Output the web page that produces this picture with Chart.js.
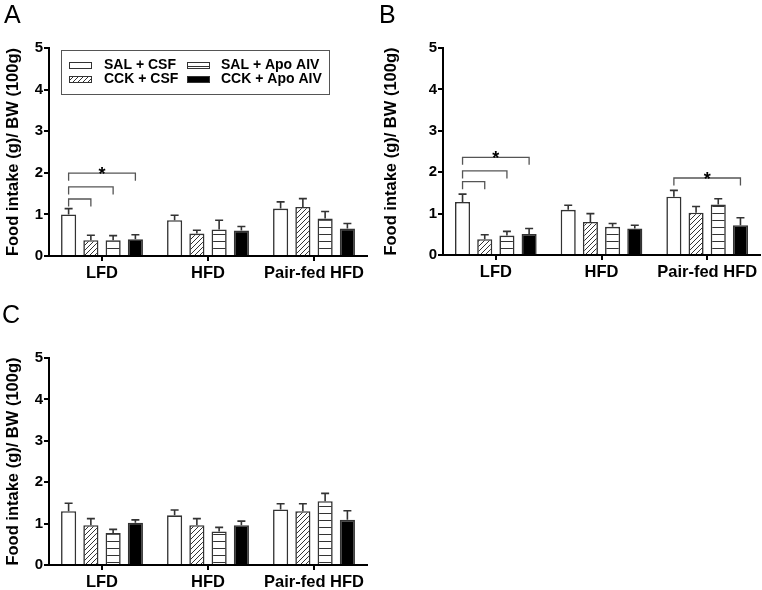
<!DOCTYPE html>
<html>
<head>
<meta charset="utf-8">
<script src="https://cdn.jsdelivr.net/npm/chart.js@4.4.1/dist/chart.umd.min.js"></script>
<style>
body { margin: 0; background: #fff; }
#wrap { position: relative; width: 762px; height: 590px; overflow: hidden; }
canvas, .tag { position: absolute; }
.tag { font-family: "Liberation Sans", Arial, sans-serif; font-size: 25px; line-height: 25px; color: #000; }
</style>
</head>
<body>
<div id="wrap">
  <canvas id="chartA" width="380" height="290" style="left:0;top:0"></canvas>
  <canvas id="chartB" width="382" height="290" style="left:380px;top:0"></canvas>
  <canvas id="chartC" width="380" height="290" style="left:0;top:300px"></canvas>
  <div class="tag" style="left:4px;top:2px">A</div>
  <div class="tag" style="left:379px;top:2px">B</div>
  <div class="tag" style="left:2px;top:302px">C</div>
</div>
<script>
var groups = ['LFD', 'HFD', 'Pair-fed HFD'];
var seriesNames = ['SAL + CSF', 'CCK + CSF', 'SAL + Apo AIV', 'CCK + Apo AIV'];
var yTicks = [0, 1, 2, 3, 4, 5];
var yTitle = 'Food intake (g)/ BW (100g)';

// rows follow seriesNames, columns follow groups
var meanA = [
    [1.00, 0.86, 1.14],
    [0.38, 0.54, 1.18],
    [0.38, 0.64, 0.90],
    [0.40, 0.61, 0.66]
];
var semA = [
    [0.14, 0.12, 0.16],
    [0.12, 0.08, 0.20],
    [0.11, 0.22, 0.17],
    [0.11, 0.10, 0.12]
];
var meanB = [
    [1.28, 1.09, 1.41],
    [0.38, 0.80, 1.02],
    [0.47, 0.68, 1.22],
    [0.51, 0.64, 0.72]
];
var semB = [
    [0.19, 0.11, 0.15],
    [0.11, 0.20, 0.15],
    [0.10, 0.08, 0.14],
    [0.13, 0.08, 0.18]
];
var meanC = [
    [1.30, 1.20, 1.34],
    [0.96, 0.96, 1.30],
    [0.77, 0.81, 1.54],
    [1.02, 0.96, 1.09]
];
var semC = [
    [0.19, 0.13, 0.14],
    [0.16, 0.16, 0.18],
    [0.09, 0.10, 0.19],
    [0.07, 0.10, 0.22]
];

// significance brackets: group, first bar, last bar, height
var bracketsA = [
    { group: 0, from: 0, to: 1, y: 1.37, star: false },
    { group: 0, from: 0, to: 2, y: 1.66, star: false },
    { group: 0, from: 0, to: 3, y: 1.99, star: true }
];
var bracketsB = [
    { group: 0, from: 0, to: 1, y: 1.77, star: false },
    { group: 0, from: 0, to: 2, y: 2.03, star: false },
    { group: 0, from: 0, to: 3, y: 2.36, star: true },
    { group: 2, from: 0, to: 3, y: 1.86, star: true }
];
var bracketsC = [];

var FONT = "'Liberation Sans', Arial, sans-serif";
Chart.defaults.font.family = FONT;
Chart.defaults.color = '#000';

function tile(w, h, draw) {
    var c = document.createElement('canvas');
    c.width = w; c.height = h;
    var g = c.getContext('2d');
    g.fillStyle = '#fff';
    g.fillRect(0, 0, w, h);
    g.strokeStyle = '#333';
    g.lineWidth = 1;
    g.beginPath();
    draw(g);
    g.stroke();
    return g.createPattern(c, 'repeat');
}

var hatch = tile(5, 5, function (g) {
    g.moveTo(0, 5); g.lineTo(5, 0);
    g.moveTo(-1, 1); g.lineTo(1, -1);
    g.moveTo(4, 6); g.lineTo(6, 4);
});
var stripes = tile(6, 7, function (g) {
    g.moveTo(0, 3.5); g.lineTo(6, 3.5);
});
var fills = ['#fff', hatch, stripes, '#000'];

var extras = {
    id: 'extras',
    afterDatasetsDraw: function (chart, args, opts) {
        var ctx = chart.ctx;
        var y = chart.scales.y;
        ctx.save();
        ctx.strokeStyle = '#333';
        ctx.lineWidth = 1.6;
        // error bars, upper half only
        chart.data.datasets.forEach(function (ds, i) {
            chart.getDatasetMeta(i).data.forEach(function (bar, j) {
                var top = y.getPixelForValue(ds.data[j] + ds.sem[j]);
                ctx.beginPath();
                ctx.moveTo(bar.x, bar.y);
                ctx.lineTo(bar.x, top);
                ctx.moveTo(bar.x - 4, top);
                ctx.lineTo(bar.x + 4, top);
                ctx.stroke();
            });
        });
        // brackets
        ctx.strokeStyle = '#555';
        ctx.lineWidth = 1.3;
        ctx.fillStyle = '#000';
        ctx.font = 'bold 18px ' + FONT;
        ctx.textAlign = 'center';
        ctx.textBaseline = 'alphabetic';
        opts.brackets.forEach(function (b) {
            var x1 = chart.getDatasetMeta(b.from).data[b.group].x;
            var x2 = chart.getDatasetMeta(b.to).data[b.group].x;
            var yy = y.getPixelForValue(b.y);
            var yd = y.getPixelForValue(b.y - 0.18);
            ctx.beginPath();
            ctx.moveTo(x1, yd);
            ctx.lineTo(x1, yy);
            ctx.lineTo(x2, yy);
            ctx.lineTo(x2, yd);
            ctx.stroke();
            if (b.star) ctx.fillText('*', (x1 + x2) / 2, yy + 7);
        });
        // legend box (panel A only)
        if (opts.legend) {
            ctx.strokeStyle = '#555';
            ctx.lineWidth = 1;
            ctx.strokeRect(61.5, 50.5, 268, 44);
            ctx.font = 'bold 14px ' + FONT;
            ctx.textAlign = 'left';
            ctx.textBaseline = 'middle';
            var colX = [69, 187], rowY = [62, 76], textX = [104, 221], textY = [65, 79];
            chart.data.datasets.forEach(function (ds, i) {
                var c = i < 2 ? 0 : 1, r = i % 2;
                ctx.fillStyle = ds.backgroundColor;
                ctx.fillRect(colX[c], rowY[r], 22, 6);
                ctx.strokeStyle = '#333';
                ctx.strokeRect(colX[c] + 0.5, rowY[r] + 0.5, 22, 6);
                ctx.fillStyle = '#000';
                ctx.fillText(ds.label, textX[c], textY[r]);
            });
        }
        ctx.restore();
    }
};

function makePanel(id, means, sems, brackets, box) {
    var datasets = seriesNames.map(function (name, i) {
        return {
            label: name,
            data: means[i],
            sem: sems[i],
            backgroundColor: fills[i],
            borderColor: '#333',
            borderWidth: 1.6,
            categoryPercentage: 0.84,
            barPercentage: 0.68
        };
    });
    return new Chart(id, {
        type: 'bar',
        plugins: [extras],
        data: { labels: groups, datasets: datasets },
        options: {
            responsive: false,
            animation: false,
            layout: { padding: { top: box.top, right: box.right, left: 0, bottom: 0 } },
            plugins: {
                legend: { display: false },
                tooltip: { enabled: false },
                extras: { brackets: brackets, legend: box.legend }
            },
            scales: {
                x: {
                    afterFit: function (s) { s.height = box.xHeight; },
                    grid: { offset: false, drawOnChartArea: false, tickLength: 5, lineWidth: 2, color: '#000' },
                    border: { color: '#000', width: 2 },
                    ticks: { font: { size: 16.5, weight: 'bold' }, padding: 3, maxRotation: 0, minRotation: 0, autoSkip: false }
                },
                y: {
                    min: 0,
                    max: 5,
                    afterFit: function (s) { s.width = box.yWidth; },
                    afterBuildTicks: function (s) {
                        s.ticks = yTicks.map(function (v) { return { value: v }; });
                    },
                    grid: { drawOnChartArea: false, tickLength: 5, lineWidth: 2, color: '#000' },
                    border: { color: '#000', width: 2 },
                    ticks: { font: { size: 15, weight: 'bold' }, padding: 1 },
                    title: {
                        display: true,
                        text: yTitle,
                        font: { size: 16.5, weight: 'bold' },
                        padding: { top: box.titlePad, bottom: 0 }
                    }
                }
            }
        }
    });
}

makePanel('chartA', meanA, semA, bracketsA, { top: 48, right: 13, xHeight: 34, yWidth: 49, titlePad: 4, legend: true });
makePanel('chartB', meanB, semB, bracketsB, { top: 48, right: 2, xHeight: 35, yWidth: 63, titlePad: 2, legend: false });
makePanel('chartC', meanC, semC, bracketsC, { top: 58, right: 13, xHeight: 25, yWidth: 49, titlePad: 4, legend: false });
</script>
</body>
</html>
